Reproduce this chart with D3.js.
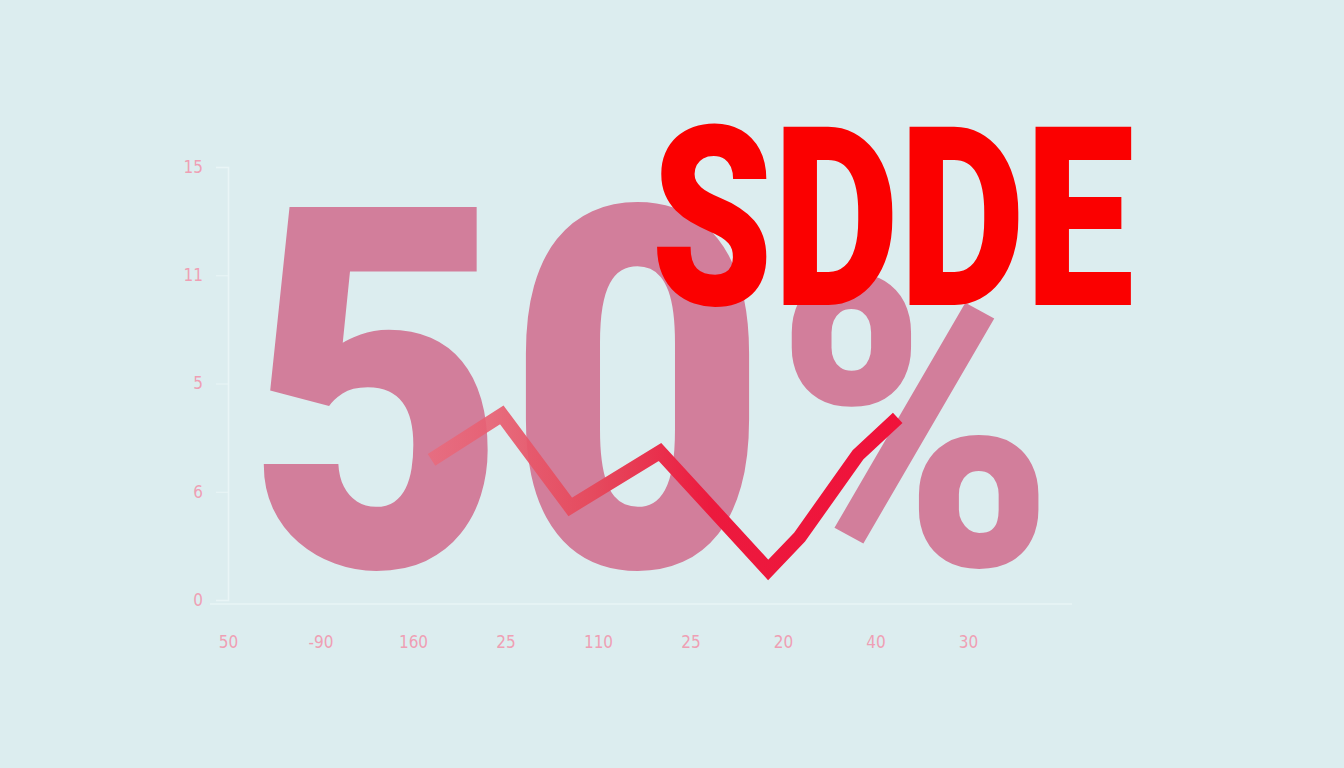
<!DOCTYPE html>
<html>
<head>
<meta charset="utf-8">
<script src="https://cdn.jsdelivr.net/npm/d3@7"></script>
<style>
  html, body { margin: 0; padding: 0; background: #dcedef; }
  svg { display: block; }
</style>
</head>
<body>
<div id="chart"></div>
<script>
// datos del grafico
var xLabels = ["50", "-90", "160", "25", "110", "25", "20", "40", "30"];
var yTickValues = [0, 5, 10, 15, 20];
var yTickLabels = ["0", "6", "5", "11", "15"];

// serie (x en indice de categoria, y en unidades del eje)
var lineX = [2.20, 2.96, 3.70, 4.67, 5.84, 6.18, 6.81, 7.24];
var lineY = [6.47, 8.55, 4.30, 6.84, 1.39, 2.91, 6.70, 8.41];

var bigNumber = "50";
var bigSuffix = "%";
var title = "SDDE";

var width = 1344, height = 768;

var svg = d3.select("#chart").append("svg")
    .attr("width", width)
    .attr("height", height);

svg.append("rect")
    .attr("width", width).attr("height", height)
    .attr("fill", "#dcedef");

var x = d3.scaleLinear().domain([0, 8]).range([228, 968]);
var y = d3.scaleLinear().domain([0, 20]).range([600, 167]);

// ejes (muy tenues)
var gy = svg.append("g")
    .attr("transform", "translate(228,0)")
    .call(d3.axisLeft(y).tickValues(yTickValues).tickSize(12).tickPadding(13)
        .tickFormat(function(d, i) { return yTickLabels[i]; }));

var gx = svg.append("g")
    .attr("transform", "translate(0,604)")
    .call(d3.axisBottom(x).tickValues(d3.range(xLabels.length)).tickSize(0).tickPadding(32)
        .tickFormat(function(d, i) { return xLabels[i]; }));

[gx, gy].forEach(function(g) {
  g.select(".domain").attr("stroke", "#e9f5f6").attr("stroke-width", 1.5);
  g.selectAll(".tick line").attr("stroke", "#e9f5f6");
  g.selectAll("text")
      .attr("fill", "#ef9fb4")
      .attr("font-family", "'DejaVu Sans Condensed', 'DejaVu Sans', sans-serif")
      .attr("font-size", 17);
});
gx.select(".domain").attr("d", "M210,0H1072");

// numero grande de fondo
svg.append("text")
    .attr("x", 246)
    .attr("y", 566)
    .attr("textLength", 522)
    .attr("lengthAdjust", "spacingAndGlyphs")
    .attr("font-family", "Roboto, sans-serif")
    .attr("font-weight", 900)
    .attr("font-size", 505)
    .attr("fill", "#d27e9b")
    .text(bigNumber);

svg.append("text")
    .attr("x", 775)
    .attr("y", 565)
    .attr("textLength", 280)
    .attr("lengthAdjust", "spacingAndGlyphs")
    .attr("font-family", "Roboto, sans-serif")
    .attr("font-weight", 900)
    .attr("font-size", 405)
    .attr("fill", "#d27e9b")
    .text(bigSuffix);

// linea con degradado
var defs = svg.append("defs");
var grad = defs.append("linearGradient")
    .attr("id", "lineGrad")
    .attr("gradientUnits", "userSpaceOnUse")
    .attr("x1", x(lineX[0])).attr("x2", x(lineX[lineX.length - 1]))
    .attr("y1", 0).attr("y2", 0);
grad.append("stop").attr("offset", "0%").attr("stop-color", "#ea6a7c").attr("stop-opacity", 0.85);
grad.append("stop").attr("offset", "35%").attr("stop-color", "#e54a5e").attr("stop-opacity", 1);
grad.append("stop").attr("offset", "60%").attr("stop-color", "#ec1a3e").attr("stop-opacity", 1);
grad.append("stop").attr("offset", "100%").attr("stop-color", "#f0123a").attr("stop-opacity", 1);

var line = d3.line()
    .x(function(d) { return x(d[0]); })
    .y(function(d) { return y(d[1]); });

svg.append("path")
    .datum(d3.zip(lineX, lineY))
    .attr("d", line)
    .attr("fill", "none")
    .attr("stroke", "url(#lineGrad)")
    .attr("stroke-width", 14)
    .attr("stroke-linejoin", "miter")
    .attr("stroke-linecap", "butt");

// titulo
svg.append("text")
    .attr("x", 651)
    .attr("y", 305)
    .attr("textLength", 483)
    .attr("lengthAdjust", "spacingAndGlyphs")
    .attr("font-family", "Roboto, sans-serif")
    .attr("font-weight", 900)
    .attr("font-size", 250)
    .attr("fill", "#fb0000")
    .text(title);
</script>
</body>
</html>
